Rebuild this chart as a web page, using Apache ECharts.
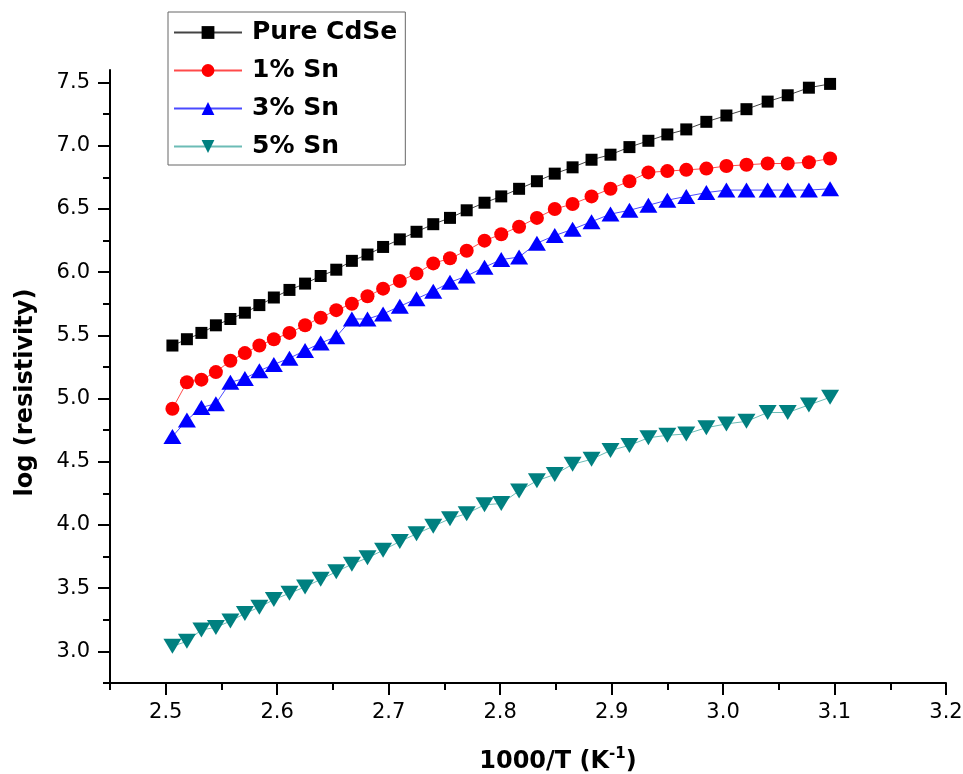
<!DOCTYPE html>
<html>
<head>
<meta charset="utf-8">
<title>log (resistivity) vs 1000/T</title>
<script src="https://cdn.jsdelivr.net/npm/echarts@6/dist/echarts.min.js"></script>
<style>
  html, body { margin: 0; padding: 0; background: #fff; }
  #chart { width: 963px; height: 774px; }
</style>
</head>
<body>
<div id="chart"></div>
<script>
// Inverse temperature, 1000/T (K^-1)
const invT = [2.506, 2.519, 2.532, 2.545, 2.558, 2.571, 2.584, 2.597, 2.611, 2.625,
              2.639, 2.653, 2.667, 2.681, 2.695, 2.710, 2.725, 2.740, 2.755, 2.770,
              2.786, 2.801, 2.817, 2.833, 2.849, 2.865, 2.882, 2.899, 2.916, 2.933,
              2.950, 2.967, 2.985, 3.003, 3.021, 3.040, 3.058, 3.077, 3.096];

// log (resistivity) for each film
const pureCdSe = [5.42, 5.47, 5.52, 5.58, 5.63, 5.68, 5.74, 5.80, 5.86, 5.91,
                  5.97, 6.02, 6.09, 6.14, 6.20, 6.26, 6.32, 6.38, 6.43, 6.49,
                  6.55, 6.60, 6.66, 6.72, 6.78, 6.83, 6.89, 6.93, 6.99, 7.04,
                  7.09, 7.13, 7.19, 7.24, 7.29, 7.35, 7.40, 7.46, 7.49];
const sn1 = [4.92, 5.13, 5.15, 5.21, 5.30, 5.36, 5.42, 5.47, 5.52, 5.58,
             5.64, 5.70, 5.75, 5.81, 5.87, 5.93, 5.99, 6.07, 6.11, 6.17,
             6.25, 6.30, 6.36, 6.43, 6.50, 6.54, 6.60, 6.66, 6.72, 6.79,
             6.80, 6.81, 6.82, 6.84, 6.85, 6.86, 6.86, 6.87, 6.90];
const sn3 = [4.70, 4.83, 4.93, 4.96, 5.13, 5.16, 5.22, 5.27, 5.32, 5.38,
             5.44, 5.49, 5.63, 5.63, 5.67, 5.73, 5.79, 5.85, 5.92, 5.97,
             6.04, 6.10, 6.12, 6.23, 6.29, 6.34, 6.40, 6.46, 6.49, 6.53,
             6.57, 6.60, 6.63, 6.65, 6.65, 6.65, 6.65, 6.65, 6.66];
const sn5 = [3.04, 3.08, 3.17, 3.19, 3.24, 3.30, 3.35, 3.41, 3.46, 3.51,
             3.57, 3.63, 3.69, 3.74, 3.80, 3.87, 3.93, 3.99, 4.05, 4.09,
             4.16, 4.17, 4.27, 4.35, 4.40, 4.48, 4.52, 4.59, 4.63, 4.69,
             4.71, 4.72, 4.77, 4.80, 4.82, 4.89, 4.89, 4.95, 5.01];

const seriesNames = ['Pure CdSe', '1% Sn', '3% Sn', '5% Sn'];

// Tick positions
const xMajorTicks = [2.5, 2.6, 2.7, 2.8, 2.9, 3.0, 3.1, 3.2];
const xMinorTicks = [2.45, 2.55, 2.65, 2.75, 2.85, 2.95, 3.05, 3.15];
const yMajorTicks = [3.0, 3.5, 4.0, 4.5, 5.0, 5.5, 6.0, 6.5, 7.0, 7.5];
const yMinorTicks = [2.75, 3.25, 3.75, 4.25, 4.75, 5.25, 5.75, 6.25, 6.75, 7.25];

const pairs = ys => invT.map((x, i) => [x, ys[i]]);
const FONT = 'DejaVu Sans';

const xRange = { min: 2.45, max: 3.2 };
const yRange = { min: 2.75, max: 7.6 };

const chart = echarts.init(document.getElementById('chart'), null, { renderer: 'canvas' });

chart.setOption({
  backgroundColor: '#ffffff',
  animation: false,
  grid: { left: 110, right: 17, top: 70, bottom: 91, containLabel: false, outerBoundsMode: 'none' },
  legend: {
    orient: 'vertical',
    left: 168,
    top: 12,
    padding: [6, 8, 4, 5],
    itemGap: 9,
    itemWidth: 68,
    itemHeight: 16,
    borderColor: '#666666',
    borderWidth: 1,
    data: seriesNames,
    textStyle: {
      fontFamily: FONT, fontWeight: 'bold', fontSize: 25, color: '#000',
      lineHeight: 29, padding: [0, 0, 0, 5]
    }
  },
  xAxis: [
    {
      type: 'value', ...xRange, position: 'bottom',
      name: '1000/T (K{s|-1})',
      nameLocation: 'middle',
      nameGap: 64,
      nameTextStyle: {
        fontFamily: FONT, fontWeight: 'bold', fontSize: 24, color: '#000',
        lineHeight: 30,
        padding: [0, 0, 0, 60],
        rich: {
          s: { fontFamily: FONT, fontWeight: 'bold', fontSize: 15, color: '#000',
               lineHeight: 16, verticalAlign: 'top' }
        }
      },
      axisLine: { show: true, onZero: false, lineStyle: { color: '#000', width: 2 } },
      axisTick: { show: true, inside: false, length: 12, customValues: xMajorTicks,
                  lineStyle: { color: '#000', width: 2 } },
      axisLabel: { show: true, margin: 19, customValues: xMajorTicks,
                   formatter: v => v.toFixed(1),
                   fontFamily: FONT, fontSize: 21, color: '#000' },
      splitLine: { show: false }
    },
    {
      type: 'value', ...xRange, position: 'bottom',
      axisLine: { show: false, onZero: false },
      axisTick: { show: true, inside: false, length: 7, customValues: xMinorTicks,
                  lineStyle: { color: '#000', width: 2 } },
      axisLabel: { show: false },
      splitLine: { show: false }
    }
  ],
  yAxis: [
    {
      type: 'value', ...yRange, position: 'left',
      name: 'log (resistivity)',
      nameLocation: 'middle',
      nameRotate: 90,
      nameGap: 72,
      nameTextStyle: {
        fontFamily: FONT, fontWeight: 'bold', fontSize: 24, color: '#000',
        padding: [0, 32, 0, 0]
      },
      axisLine: { show: true, onZero: false, lineStyle: { color: '#000', width: 2 } },
      axisTick: { show: true, inside: false, length: 12, customValues: yMajorTicks,
                  lineStyle: { color: '#000', width: 2 } },
      axisLabel: { show: true, margin: 20, customValues: yMajorTicks,
                   formatter: v => v.toFixed(1),
                   fontFamily: FONT, fontSize: 21, color: '#000' },
      splitLine: { show: false }
    },
    {
      type: 'value', ...yRange, position: 'left',
      axisLine: { show: false, onZero: false },
      axisTick: { show: true, inside: false, length: 7, customValues: yMinorTicks,
                  lineStyle: { color: '#000', width: 2 } },
      axisLabel: { show: false },
      splitLine: { show: false }
    }
  ],
  series: [
    {
      name: seriesNames[0], type: 'line', data: pairs(pureCdSe),
      symbol: 'rect', symbolSize: 12,
      itemStyle: { color: '#000000' },
      lineStyle: { color: '#444444', width: 1 }
    },
    {
      name: seriesNames[1], type: 'line', data: pairs(sn1),
      symbol: 'circle', symbolSize: 14,
      itemStyle: { color: '#ff0000' },
      lineStyle: { color: '#ff4a4a', width: 1 }
    },
    {
      name: seriesNames[2], type: 'line', data: pairs(sn3),
      symbol: 'triangle', symbolSize: [18, 15],
      itemStyle: { color: '#0000ff' },
      lineStyle: { color: '#4a4aff', width: 1 }
    },
    {
      name: seriesNames[3], type: 'line', data: pairs(sn5),
      symbol: 'triangle', symbolSize: [18, 15], symbolRotate: 180,
      itemStyle: { color: '#008080' },
      lineStyle: { color: '#6cbcb6', width: 1 }
    }
  ]
});
</script>
</body>
</html>
